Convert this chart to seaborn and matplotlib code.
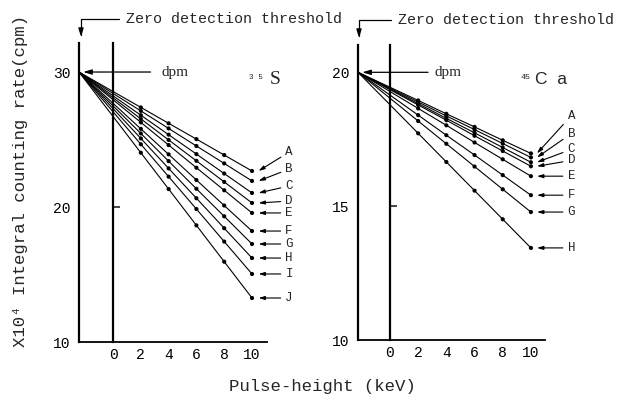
import numpy as np
import pandas as pd
import matplotlib
matplotlib.use("Agg")
import matplotlib.pyplot as plt
import seaborn as sns

# ---------------- data ----------------
kev = [2, 4, 6, 8, 10]

# 35S panel: zero-detection threshold position and dpm value
s35_threshold = -2.45
s35_dpm = 30
s35_labels = ["A", "B", "C", "D", "E", "F", "G", "H", "I", "J"]
s35_A = [27.38, 26.20, 25.03, 23.85, 22.67]
s35_B = [27.12, 25.82, 24.52, 23.23, 21.93]
s35_C = [26.80, 25.36, 23.92, 22.48, 21.04]
s35_D = [26.53, 24.97, 23.42, 21.86, 20.30]
s35_E = [26.27, 24.59, 22.91, 21.24, 19.56]
s35_F = [25.79, 23.90, 22.00, 20.11, 18.22]
s35_G = [25.45, 23.40, 21.35, 19.31, 17.26]
s35_H = [25.08, 22.86, 20.65, 18.43, 16.22]
s35_I = [24.65, 22.25, 19.85, 17.44, 15.04]
s35_J = [24.02, 21.33, 18.64, 15.95, 13.26]
s35_series = [s35_A, s35_B, s35_C, s35_D, s35_E, s35_F, s35_G, s35_H, s35_I, s35_J]

# 45Ca panel
ca45_threshold = -2.27
ca45_dpm = 20
ca45_labels = ["A", "B", "C", "D", "E", "F", "G", "H"]
ca45_A = [18.95, 18.45, 17.96, 17.46, 16.97]
ca45_B = [18.89, 18.37, 17.86, 17.34, 16.82]
ca45_C = [18.83, 18.28, 17.74, 17.19, 16.64]
ca45_D = [18.78, 18.21, 17.63, 17.06, 16.49]
ca45_E = [18.65, 18.02, 17.38, 16.75, 16.12]
ca45_F = [18.40, 17.65, 16.91, 16.16, 15.41]
ca45_G = [18.18, 17.33, 16.48, 15.63, 14.78]
ca45_H = [17.72, 16.65, 15.58, 14.51, 13.44]
ca45_series = [ca45_A, ca45_B, ca45_C, ca45_D, ca45_E, ca45_F, ca45_G, ca45_H]

x_ticks = [0, 2, 4, 6, 8, 10]
s35_yticks = [10, 20, 30]
ca45_yticks = [10, 15, 20]

# ---------------- layout (not data) ----------------
s35_label_y = [24.07, 22.81, 21.56, 20.44, 19.56, 18.22, 17.26, 16.22, 15.04, 13.26]
ca45_label_y = [18.38, 17.71, 17.12, 16.71, 16.12, 15.41, 14.78, 13.44]

sns.set_style("white")
plt.rcParams["font.family"] = ["Liberation Mono", "DejaVu Sans Mono", "DejaVu Sans"]

W, H = 619, 396
fig = plt.figure(figsize=(W / 100, H / 100), dpi=100)


def px_axes(x0, x1, ytop, ybot):
    return fig.add_axes([x0 / W, (H - ybot) / H, (x1 - x0) / W, (ybot - ytop) / H])


ax1 = px_axes(79, 267, 43, 342)
ax2 = px_axes(358, 545, 45, 340)


def build_frames(threshold, dpm, labels, series):
    line_rows, pt_rows = [], []
    for lab, vals in zip(labels, series):
        line_rows.append((lab, threshold, dpm))
        for x, v in zip(kev, vals):
            line_rows.append((lab, x, v))
            pt_rows.append((lab, x, v))
    cols = ["curve", "kev", "rate"]
    return pd.DataFrame(line_rows, columns=cols), pd.DataFrame(pt_rows, columns=cols)


def draw_panel(ax, threshold, dpm, labels, series, label_y, xmax, ymax, yticks,
               zero_tick, label_x, tip_x, dpm_x):
    lines, pts = build_frames(threshold, dpm, labels, series)
    sns.lineplot(data=lines, x="kev", y="rate", hue="curve", units="curve",
                 estimator=None, sort=False, palette=["black"] * len(labels),
                 legend=False, lw=0.8, ax=ax)
    sns.scatterplot(data=pts, x="kev", y="rate", color="black", s=9,
                    edgecolor="none", ax=ax, zorder=3)
    ax.set_xlim(threshold, xmax)
    ax.set_ylim(10, ymax)
    ax.set_xlabel("")
    ax.set_ylabel("")
    for s in ["top", "right"]:
        ax.spines[s].set_visible(False)
    ax.spines["left"].set_linewidth(1.6)
    ax.spines["bottom"].set_linewidth(1.3)
    ax.spines["left"].set_color("black")
    ax.spines["bottom"].set_color("black")
    ax.set_xticks(x_ticks)
    ax.set_xticklabels([str(t) for t in x_ticks])
    ax.tick_params(axis="x", direction="in", length=4, width=1.2, pad=4,
                   labelsize=10.5, colors="black")
    ax.set_yticks(yticks)
    ax.set_yticklabels([str(t) for t in yticks])
    ax.tick_params(axis="y", length=0, pad=6, labelsize=10.5, colors="black")
    # vertical line at x = 0 with its own small tick
    loc = (0 - threshold) / (xmax - threshold)
    sec = ax.secondary_yaxis(loc)
    sec.set_yticks([zero_tick])
    sec.tick_params(direction="in", length=5, width=1.2, labelleft=False,
                    labelright=False)
    sec.spines["left"].set_linewidth(1.6)
    sec.spines["left"].set_color("black")
    # dpm arrow
    ax.annotate("", xy=(threshold + 0.3, dpm), xytext=(2.7, dpm),
                arrowprops=dict(arrowstyle="-|>,head_length=0.5,head_width=0.15",
                                lw=0.9, color="black", shrinkA=0, shrinkB=0))
    ax.text(dpm_x, dpm, "dpm", family="Liberation Serif",
            fontsize=11, va="center", ha="left")
    # curve labels
    for lab, vals, ly in zip(labels, series, label_y):
        ax.annotate(lab, xy=(tip_x, vals[-1]), xytext=(label_x, ly),
                    va="center", ha="left", fontsize=9, annotation_clip=False,
                    arrowprops=dict(arrowstyle="-|>,head_length=0.4,head_width=0.12",
                                    lw=0.8, color="black", shrinkA=1, shrinkB=0))


draw_panel(ax1, s35_threshold, s35_dpm, s35_labels, s35_series, s35_label_y,
           11.08, 32.15, s35_yticks, 20, 12.4, 10.47, 3.5)
draw_panel(ax2, ca45_threshold, ca45_dpm, ca45_labels, ca45_series, ca45_label_y,
           11.0, 21.02, ca45_yticks, 15, 12.6, 10.43, 3.15)

# isotope names
ax1.text(9.75, 29.6, "3 5", fontsize=5.5, va="center", ha="left")
ax1.text(11.3, 29.45, "S", family="Liberation Serif", fontsize=14, va="center", ha="left")
ax2.text(9.25, 19.8, "45", fontsize=6, va="center", ha="left")
ax2.text(10.3, 19.72, "C  a", family="Liberation Sans", fontsize=12.5, va="center", ha="left")

# zero detection threshold brackets
for (sx, tx, ytxt, ytip) in [(81, 126, 19, 37), (359, 398, 20, 38)]:
    fig.text(tx / W, (H - ytxt) / H, "Zero detection threshold", fontsize=10.8,
             va="center", ha="left")
    ax1.annotate("", xy=(sx, H - ytip), xycoords="figure pixels",
                 xytext=(tx - 7, H - ytxt), textcoords="figure pixels",
                 arrowprops=dict(arrowstyle="-|>,head_length=0.5,head_width=0.15",
                                 lw=0.9, color="black", shrinkA=0, shrinkB=0,
                                 connectionstyle="angle,angleA=180,angleB=90,rad=0"))

fig.text(322 / W, (H - 386) / H, "Pulse-height (keV)", fontsize=12.5,
         ha="center", va="center")
fig.text(21 / W, (H - 181) / H, "X10⁴ Integral counting rate(cpm)", fontsize=12.5,
         ha="center", va="center", rotation=90)

fig.savefig("out.png", dpi=100)
